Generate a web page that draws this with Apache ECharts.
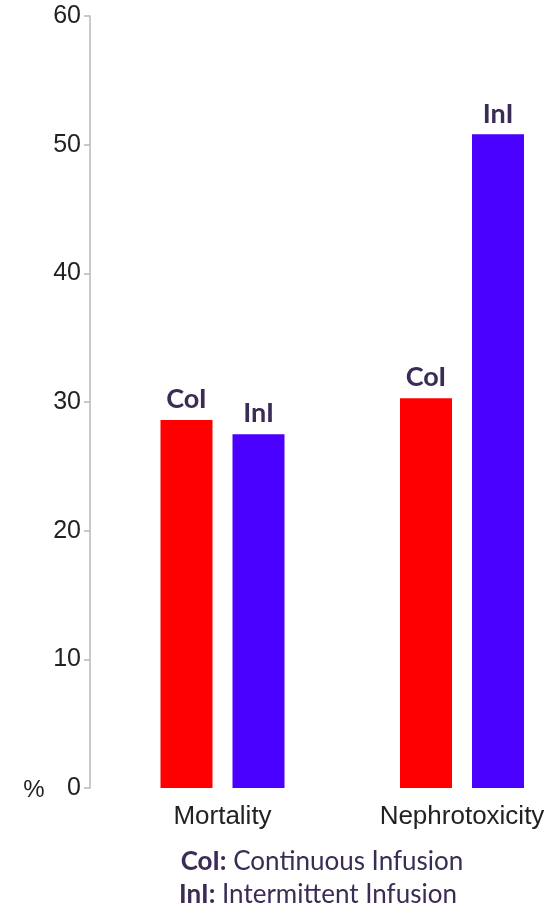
<!DOCTYPE html>
<html><head><meta charset="utf-8">
<script src="https://cdn.jsdelivr.net/npm/echarts@6/dist/echarts.min.js"></script>
<style>html,body{margin:0;padding:0;background:#fff}#c{width:552px;height:909px}</style>
</head><body><div id="c"></div>
<script>
const categories = ['Mortality', 'Nephrotoxicity'];
const coiValues = [28.6, 30.3];
const iniValues = [27.5, 50.8];
const yTicks = [0, 10, 20, 30, 40, 50, 60];
const seriesNames = ['CoI', 'InI'];

const chart = echarts.init(document.getElementById('c'));
const labelStyle = {
  show: true, position: 'top', distance: 7,
  formatter: p => p.seriesName,
  fontFamily: 'Lato', fontWeight: 'bold', fontSize: 27, color: '#3a2c55'
};
const richB = { b: { fontWeight: 'bold', fontFamily: 'Lato', fontSize: 26, fill: '#3a2c55' } };
chart.setOption({
  backgroundColor: '#fff',
  animation: false,
  grid: { left: 222.5, right: 90, top: 16, bottom: 121, containLabel: false },
  xAxis: {
    type: 'category', data: categories, boundaryGap: false,
    axisLine: { show: false }, axisTick: { show: false },
    axisLabel: { fontFamily: 'Liberation Sans', fontSize: 26, color: '#222', margin: 16 }
  },
  yAxis: {
    type: 'value', min: yTicks[0], max: yTicks[yTicks.length - 1], interval: 10,
    offset: 132.5,
    splitLine: { show: false },
    axisLine: { show: true, lineStyle: { color: '#b8b8b8', width: 1.5 } },
    axisTick: { show: true, length: 6, lineStyle: { color: '#b8b8b8', width: 1.5 } },
    axisLabel: { fontFamily: 'Liberation Sans', fontSize: 25, color: '#222', margin: 9 }
  },
  graphic: [
    { type: 'text', x: 34, y: 790, style: { text: '%', fontFamily: 'Liberation Sans', fontSize: 24, fill: '#222', textAlign: 'center', textVerticalAlign: 'middle' } },
    { type: 'text', x: 322, y: 862, style: {
        text: '{b|CoI:} Continuous Infusion', rich: richB,
        textAlign: 'center', textVerticalAlign: 'middle',
        fontFamily: 'Lato', fontSize: 26, fill: '#3a2c55' } },
    { type: 'text', x: 318, y: 895, style: {
        text: '{b|InI:} Intermittent Infusion', rich: richB,
        textAlign: 'center', textVerticalAlign: 'middle',
        fontFamily: 'Lato', fontSize: 26, fill: '#3a2c55' } }
  ],
  series: [
    { name: seriesNames[0], type: 'bar', data: coiValues, barWidth: 52, barGap: '38.5%', clip: false,
      itemStyle: { color: '#ff0000' }, label: labelStyle },
    { name: seriesNames[1], type: 'bar', data: iniValues, barWidth: 52, clip: false,
      itemStyle: { color: '#4a00ff' }, label: labelStyle }
  ]
});
</script></body></html>
